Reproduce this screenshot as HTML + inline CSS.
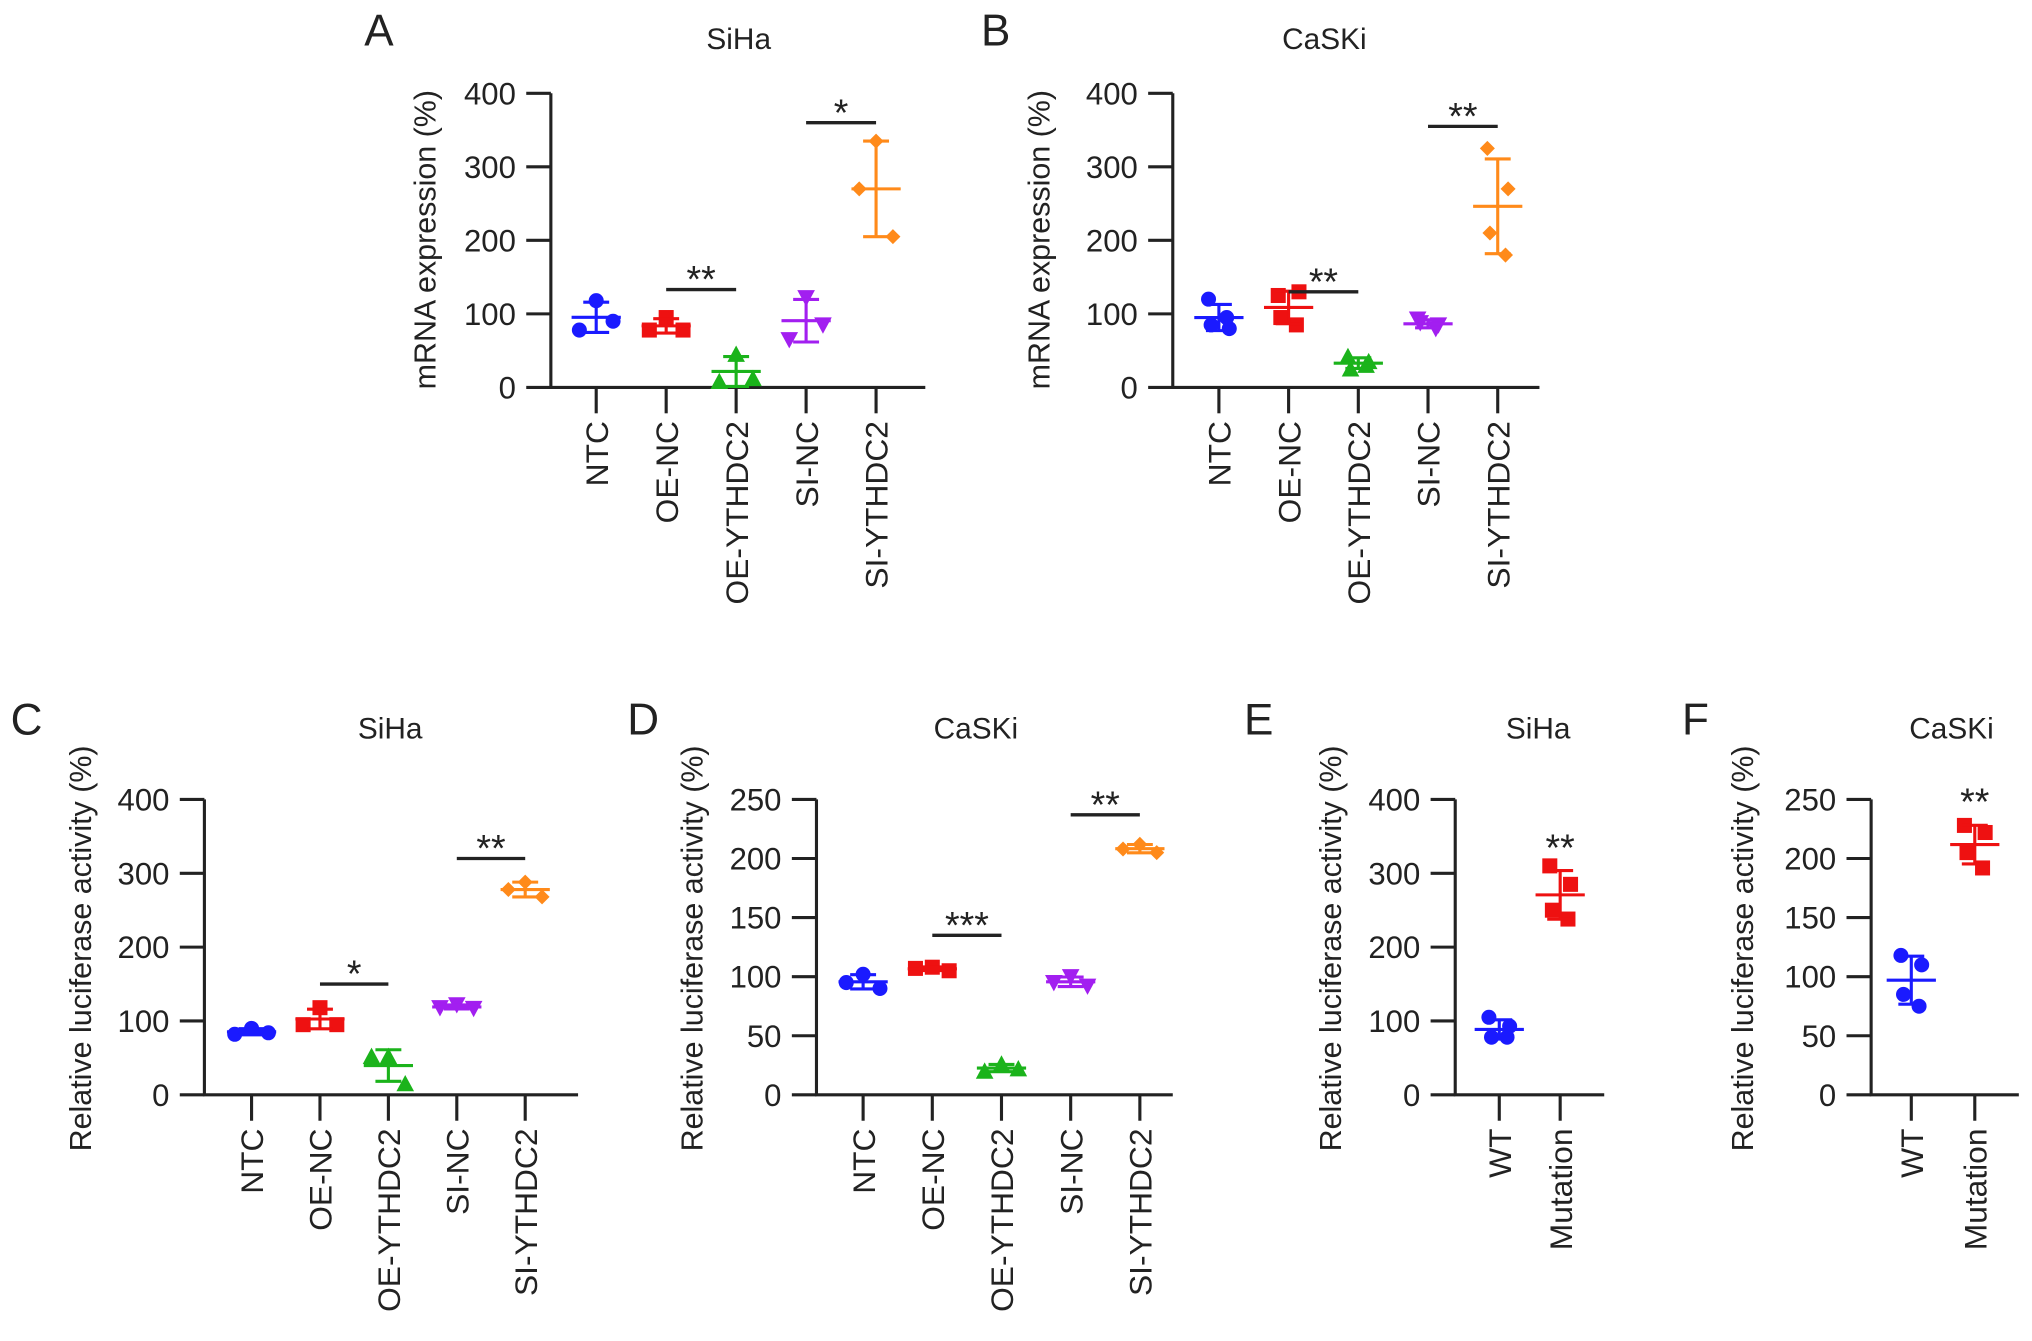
<!DOCTYPE html>
<html><head><meta charset="utf-8">
<style>
html,body{margin:0;padding:0;background:#fff;}
svg{display:block;}
text{font-family:"Liberation Sans",Arial,sans-serif;fill:#222;}
</style></head>
<body>
<svg id="fig" width="2032" height="1341" viewBox="0 0 1568 1035" xmlns="http://www.w3.org/2000/svg"></svg>
<script>
// ---- data ----
const catsFive = ["NTC","OE-NC","OE-YTHDC2","SI-NC","SI-YTHDC2"];
const catsTwo = ["WT","Mutation"];
const ticks400 = [0,100,200,300,400];
const ticks250 = [0,50,100,150,200,250];
const aValues = [[118,78,90],[95,78,78],[45,8,12],[122,65,85],[335,270,205]];
const bValues = [[120,80,85,95],[125,130,95,85],[42,35,25,30],[93,85,88,80],[325,270,210,180]];
const cValues = [[90,82,84],[118,95,95],[52,52,15],[122,118,117],[288,278,268]];
const dValues = [[102,95,90],[108,107,105],[26,20,22],[100,95,92],[212,208,205]];
const eValues = [[105,93,78,78],[310,285,250,238]];
const fValues = [[118,110,85,75],[228,222,205,192]];
const aSig = [[1,2,133,"**"],[3,4,360,"*"]];
const bSig = [[1,2,130,"**"],[3,4,355,"**"]];
const cSig = [[1,2,150,"*"],[3,4,320,"**"]];
const dSig = [[1,2,135,"***"],[3,4,237,"**"]];
const eSig = [[1,1,335,"**"]];
const fSig = [[1,1,248,"**"]];

const colorsFive = ["#1a1aff","#ee1111","#1bb31b","#a21ff0","#ff8a1a"];
const shapesFive = ["circle","square","tri","itri","diamond"];
const NS = "http://www.w3.org/2000/svg";
const svg = document.getElementById('fig');
function mk(tag, attrs, parent){const e=document.createElementNS(NS,tag);for(const k in attrs)e.setAttribute(k,attrs[k]);(parent||svg).appendChild(e);return e;}

function panel(cfg){
  const g = mk('g',{});
  
  
  const ymax = cfg.ticks[cfg.ticks.length-1];
  const Y = v => cfg.y0 - (v/ymax)*(cfg.y0-cfg.yTop);
  const X = i => cfg.firstX + i*cfg.step;
  const lt = mk('text',{x:cfg.letterX,y:cfg.letterY,'font-size':34},g); lt.textContent=cfg.letter;
   
  const tt = mk('text',{x:cfg.titleX,y:cfg.titleY,'font-size':23,'text-anchor':'middle'},g); tt.textContent=cfg.title;
   
  const yl = mk('text',{transform:`translate(${cfg.ylabX},${cfg.ylabY}) rotate(-90)`,'font-size':23.5,'text-anchor':'middle'},g); yl.textContent=cfg.ylabel;
   
  const ax = mk('path',{d:`M${cfg.x1} ${cfg.yTop}V${cfg.y0}H${cfg.xEnd}`,stroke:'#222','stroke-width':2.4,fill:'none'},g);
   
  cfg.ticks.forEach(t=>{
    mk('line',{x1:cfg.x1-19,x2:cfg.x1,y1:Y(t),y2:Y(t),stroke:'#222','stroke-width':2.4},g);
    const tl = mk('text',{x:cfg.x1-27,y:Y(t)+8.5,'font-size':24,'text-anchor':'end'},g); tl.textContent=t;
     
  });
  cfg.cats.forEach((c,i)=>{
    const x=X(i);
    mk('line',{x1:x,x2:x,y1:cfg.y0,y2:cfg.y0+20,stroke:'#222','stroke-width':2.4},g);
    const cl = mk('text',{transform:`translate(${x+9},${cfg.y0+26}) rotate(-90)`,'font-size':24.5,'text-anchor':'end'},g); cl.textContent=c;
     
  });
  cfg.values.forEach((vals,i)=>{
    const col = cfg.colors[i], shp = cfg.shapes[i], cx = X(i);
    const sg = mk('g',{},g);
    
    
    const m = vals.reduce((a,b)=>a+b,0)/vals.length;
    const sd = Math.sqrt(vals.reduce((a,b)=>a+(b-m)*(b-m),0)/(vals.length-1));
    const offs = vals.length===3 ? [0,-13,13] : [-8,8,-6,6];
    vals.forEach((v,j)=>{
      const px=cx+offs[j], py=Y(v), r=5.8; let el;
      if(shp==='circle') el=mk('circle',{cx:px,cy:py,r:r,fill:col},sg);
      else if(shp==='square') el=mk('rect',{x:px-r,y:py-r,width:2*r,height:2*r,fill:col},sg);
      else if(shp==='tri') el=mk('polygon',{points:`${px},${py-r-1} ${px-r-1},${py+r} ${px+r+1},${py+r}`,fill:col},sg);
      else if(shp==='itri') el=mk('polygon',{points:`${px},${py+r+1} ${px-r-1},${py-r} ${px+r+1},${py-r}`,fill:col},sg);
      else el=mk('polygon',{points:`${px},${py-r} ${px+r},${py} ${px},${py+r} ${px-r},${py}`,fill:col},sg);
       
    });
    const eb = mk('path',{d:`M${cx} ${Y(m+sd)}V${Y(m-sd)}M${cx-10} ${Y(m+sd)}H${cx+10}M${cx-10} ${Y(m-sd)}H${cx+10}M${cx-19} ${Y(m)}H${cx+19}`,stroke:col,'stroke-width':2.4,fill:'none'},sg);
     
  });
  cfg.sig.forEach(s=>{
    const a=X(s[0]), b=X(s[1]), y=Y(s[2]);
    if(s[0]!==s[1]){ const ln=mk('line',{x1:a,x2:b,y1:y,y2:y,stroke:'#222','stroke-width':2.6},g);
        }
    const st = mk('text',{x:(a+b)/2,y:y-(s[0]!==s[1]?8:0)+10,'font-size':29,'text-anchor':'middle'},g); st.textContent=s[3];
     
  });
}
const lab1="mRNA expression (%)", lab2="Relative luciferase activity (%)";
panel({letter:'A',letterX:281,letterY:35,title:'SiHa',titleX:570,titleY:38,ylabel:lab1,ylabX:336,ylabY:185,x1:425,xEnd:714,firstX:460,step:54,yTop:72,y0:299,ticks:ticks400,cats:catsFive,values:aValues,colors:colorsFive,shapes:shapesFive,sig:aSig});
panel({letter:'B',letterX:757,letterY:35,title:'CaSKi',titleX:1022,titleY:38,ylabel:lab1,ylabX:810,ylabY:185,x1:905,xEnd:1188,firstX:940.6,step:53.8,yTop:72,y0:299,ticks:ticks400,cats:catsFive,values:bValues,colors:colorsFive,shapes:shapesFive,sig:bSig});
panel({letter:'C',letterX:8,letterY:567,title:'SiHa',titleX:301,titleY:570,ylabel:lab2,ylabX:70,ylabY:732,x1:157.6,xEnd:446,firstX:194,step:52.8,yTop:617,y0:845,ticks:ticks400,cats:catsFive,values:cValues,colors:colorsFive,shapes:shapesFive,sig:cSig});
panel({letter:'D',letterX:484,letterY:567,title:'CaSKi',titleX:753,titleY:570,ylabel:lab2,ylabX:542,ylabY:732,x1:630,xEnd:905,firstX:666,step:53.4,yTop:617,y0:845,ticks:ticks250,cats:catsFive,values:dValues,colors:colorsFive,shapes:shapesFive,sig:dSig});
panel({letter:'E',letterX:960,letterY:567,title:'SiHa',titleX:1187,titleY:570,ylabel:lab2,ylabX:1035,ylabY:732,x1:1123,xEnd:1238,firstX:1157,step:47,yTop:617,y0:845,ticks:ticks400,cats:catsTwo,values:eValues,colors:["#1a1aff","#ee1111"],shapes:["circle","square"],sig:eSig});
panel({letter:'F',letterX:1298,letterY:567,title:'CaSKi',titleX:1506,titleY:570,ylabel:lab2,ylabX:1353,ylabY:732,x1:1444,xEnd:1558,firstX:1475,step:49,yTop:617,y0:845,ticks:ticks250,cats:catsTwo,values:fValues,colors:["#1a1aff","#ee1111"],shapes:["circle","square"],sig:fSig});
</script>
</body></html>
